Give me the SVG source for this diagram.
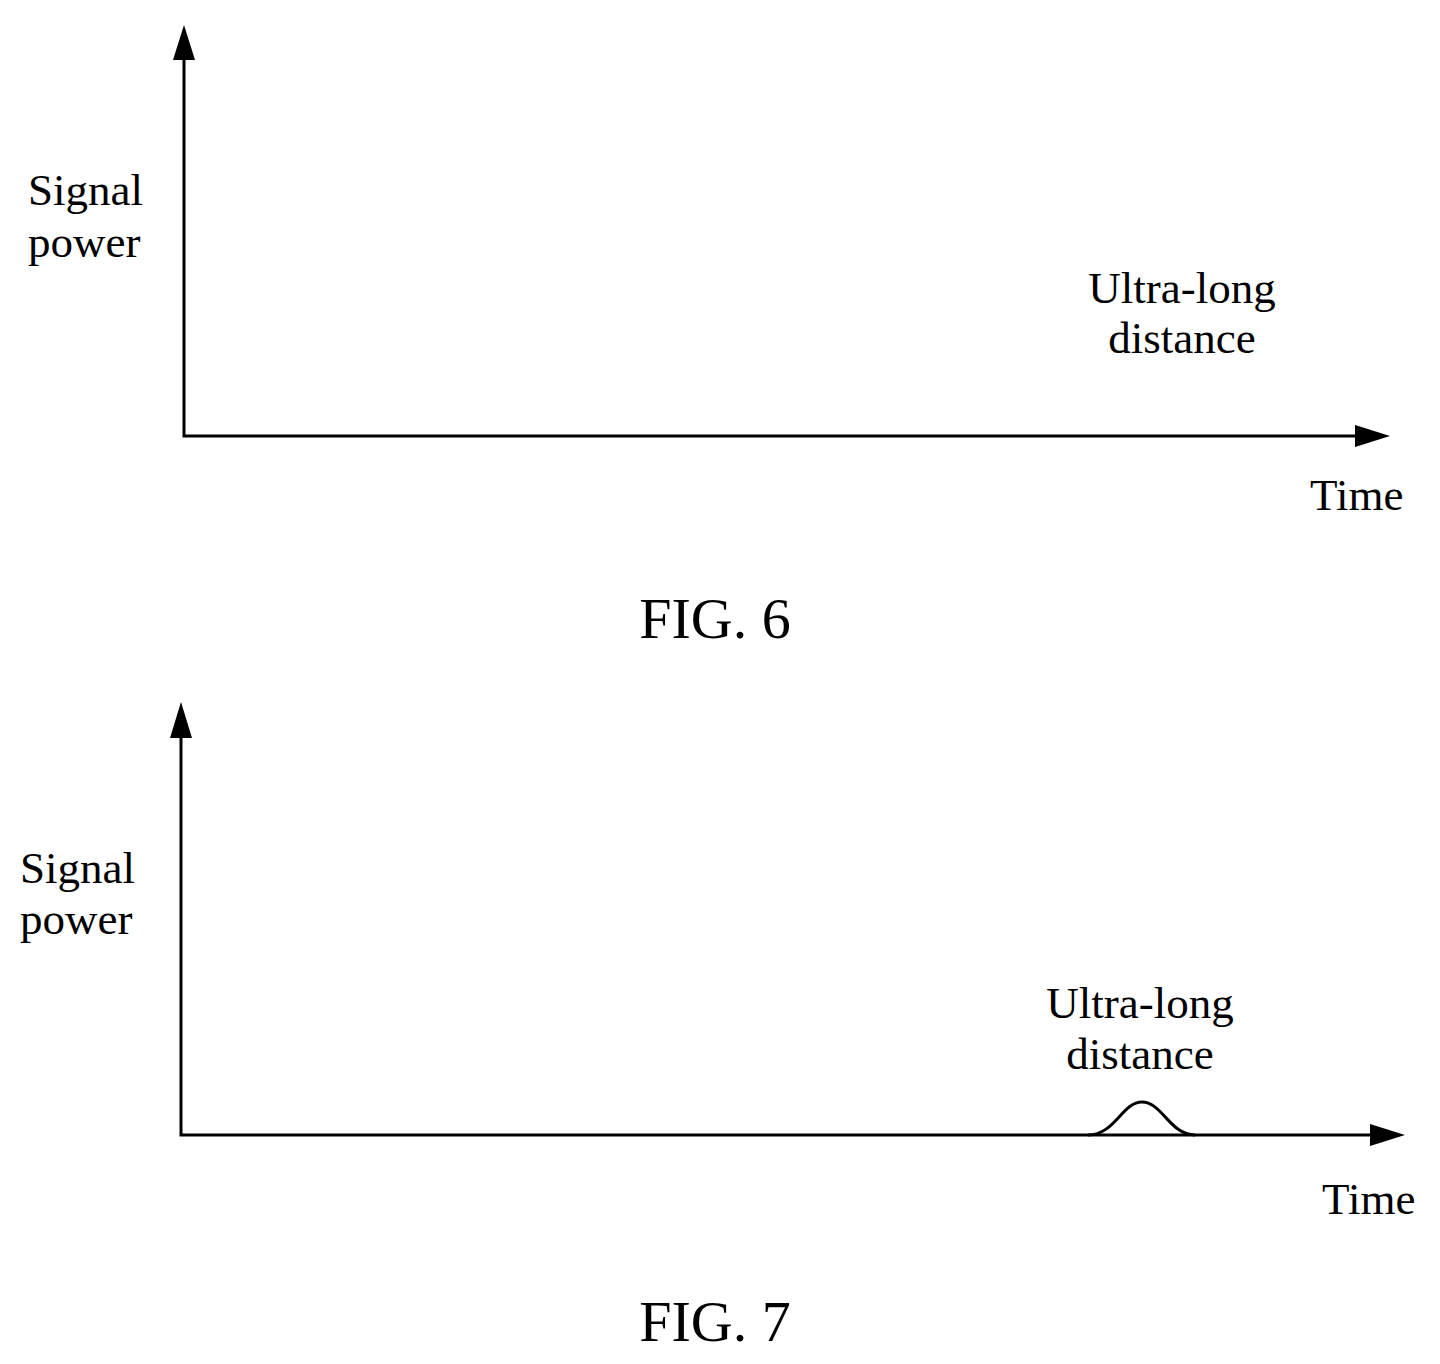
<svg xmlns="http://www.w3.org/2000/svg" width="1440" height="1364" viewBox="0 0 1440 1364">
<style>
text{font-family:"Liberation Serif",serif;font-size:45px;fill:#000}
.fig{font-size:58px}
.ax{stroke:#000;stroke-width:3;fill:none}
</style>
<rect width="1440" height="1364" fill="#fff"/>
<g id="connectors">
<path class="ax" d="M184,50 V436 H1360"/>
<polygon points="184,25 173,60 195,60"/>
<polygon points="1390,436 1355,425 1355,447"/>
<path class="ax" d="M181,728 V1135 H1375"/>
<polygon points="181,702 170,738 192,738"/>
<polygon points="1405,1135 1370,1124 1370,1146"/>
<path class="ax" stroke-width="2" d="M1088,1135 C1115,1135 1122,1102 1142,1102 C1162,1102 1170,1135 1195,1135"/>
</g>
<g id="fig6">
<text x="28" y="205">Signal</text>
<text x="28" y="257">power</text>
<text x="1182" y="303" text-anchor="middle">Ultra-long</text>
<text x="1182" y="353" text-anchor="middle">distance</text>
<text x="1310" y="510">Time</text>
<text class="fig" x="715" y="638" text-anchor="middle">FIG. 6</text>
</g>
<g id="fig7">
<text x="20" y="883">Signal</text>
<text x="20" y="934">power</text>
<text x="1140" y="1018" text-anchor="middle">Ultra-long</text>
<text x="1140" y="1069" text-anchor="middle">distance</text>
<text x="1322" y="1214">Time</text>
<text class="fig" x="715" y="1341" text-anchor="middle">FIG. 7</text>
</g>
</svg>
